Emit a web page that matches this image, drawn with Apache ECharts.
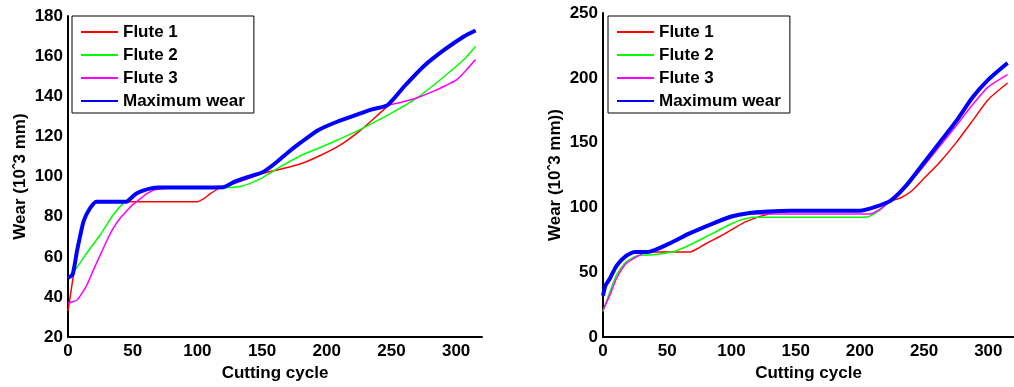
<!DOCTYPE html>
<html>
<head>
<meta charset="utf-8">
<script src="https://cdn.jsdelivr.net/npm/echarts@6/dist/echarts.min.js"></script>
<style>
  html,body{margin:0;padding:0;background:#fff;}
  #chartContent{width:1014px;height:387px;}
</style>
</head>
<body>
<div id="chartContent"></div>
<script>
// series names
var names = ['Flute 1','Flute 2','Flute 3','Maximum wear'];

// left chart  [cycle, wear]
var left_f1 = [[0,33],[4,50],[7,63],[12,77.5],[17,84],[22,87.5],[30,87.5],[100,87.5],[105,89],[110,91.5],[118,94.5],[135,98],[150,101.5],[165,103.8],[180,106.4],[195,110.5],[210,115.5],[226,123],[240,131],[248,135.8],[260,145],[275,155],[291,163.2],[306,169.8],[315,172.8]];
var left_f2 = [[0,49.5],[5,53],[12,59.5],[18,65],[25,71],[35,81],[44,87.5],[50,90],[56,92.4],[62,94],[70,94.5],[120,94.5],[133,95],[149,99],[164,104.8],[180,110.5],[195,114.5],[211,119],[226,123.5],[250,131.6],[270,139.3],[291,150],[306,158.3],[315,164.8]];
var left_f3 = [[0,37],[3,37.5],[7,38.5],[11,42],[15,46.5],[20,54],[25,61],[30,68],[35,74.3],[40,79],[45,82.6],[50,86],[56,89],[61,91.5],[66,93.2],[74,94],[80,94.5],[120,94.5],[128,96.5],[138,99],[150,101.8],[160,106.5],[170,112],[180,117],[193,123],[208,127.3],[224,131],[247,135.6],[257,136.9],[270,139.3],[280,141.8],[291,145],[300,148],[306,151.7],[315,158.3]];
var left_max = [[0,49.5],[3.6,51.3],[7,63],[12,77.6],[17,84.2],[22,87.5],[45,87.5],[50,90],[53,91.6],[58,93],[64,94.1],[70,94.5],[120,94.7],[128,97.2],[138,99.6],[150,102],[160,106.5],[170,112],[180,117],[193,123],[208,127.3],[224,131],[235,133.5],[247,135.6],[260,145],[275,155],[291,163.2],[306,169.8],[315,172.8]];

// right chart  [cycle, wear]
var right_f1 = [[0,32],[2,40],[5,45.2],[10.5,55],[18,62.6],[24.6,65.7],[68,65.7],[74,68.5],[80,72],[95,79.8],[110,88.5],[123,93.3],[135,96.5],[148,97.5],[200,97.5],[212,100.5],[224,105],[232,107.5],[240,112.5],[249,121.5],[262,134.7],[275,150],[287.5,166.6],[300,183.3],[315,196]];
var right_f2 = [[0,19.7],[5.4,35],[10.5,47.8],[18,58],[26,62.6],[38.7,63.6],[54,65.7],[62,68.5],[69.5,72],[85,79.8],[100,87.4],[108,90.5],[116,92.5],[205,92.5],[215,97.5],[224,105.3],[236,116.8],[249,133.4],[262,150],[275,166.6],[287.5,184.6],[300,198.6],[315,211.4]];
var right_f3 = [[0,21],[5.4,32.4],[10.5,45.2],[18,56.7],[26,61.9],[30,64],[35,65.7],[51.5,72.1],[67,79.8],[85,87.4],[100,93],[113,95],[208,95],[216,99],[224,105.3],[236,116],[249,131],[262,147],[275,163],[287.5,179],[300,193],[315,202.5]];
var right_max = [[0,32],[2,40],[5.4,45.2],[10.5,55],[18,62.6],[24.6,65.7],[35,65.7],[51.5,72.1],[67,79.8],[85,87.4],[100,93],[113,95.6],[128,96.8],[146,97.5],[200,97.5],[212,100.5],[224,105.3],[236,116.8],[249,133.4],[262,150],[275,166.6],[287.5,184.6],[300,198.6],[315,211.4]];

var colors = ['#ff0000','#00ff00','#ff00ff','#0000ff'];
var widths = [1.5,1.5,1.5,4];
var font = 'Liberation Sans, Arial, sans-serif';

function makeSeries(idx, data){
  var out = [];
  for(var i=0;i<4;i++){
    out.push({
      name: names[i],
      type: 'line',
      xAxisIndex: idx,
      yAxisIndex: idx,
      data: data[i],
      symbol: 'none',
      smooth: 0.2,
      animation: false,
      lineStyle: {color: colors[i], width: widths[i]},
      itemStyle: {color: colors[i]}
    });
  }
  return out;
}

function xAx(idx){
  return {
    type: 'value', gridIndex: idx, min: 0, max: 320, interval: 50,
    name: 'Cutting cycle', nameLocation: 'middle', nameGap: 27,
    nameTextStyle: {color:'#000', fontWeight:'bold', fontSize:17, fontFamily:font},
    axisLine: {lineStyle:{color:'#000', width:2}},
    axisTick: {show:false},
    splitLine: {show:false},
    axisLabel: {color:'#000', fontWeight:'bold', fontSize:17, fontFamily:font, margin:6, showMaxLabel:false}
  };
}

function yAx(idx, min, max, step, title){
  return {
    type: 'value', gridIndex: idx, min: min, max: max, interval: step,
    name: title, nameLocation: 'middle', nameGap: 39,
    nameTextStyle: {color:'#000', fontWeight:'bold', fontSize:17, fontFamily:font},
    axisLine: {show:true, lineStyle:{color:'#000', width:2}},
    axisTick: {show:false},
    splitLine: {show:false},
    axisLabel: {color:'#000', fontWeight:'bold', fontSize:17, fontFamily:font, margin:5}
  };
}

function legendAt(l){
  return {
    data: names, orient: 'vertical', left: l, top: 16,
    itemWidth: 37, itemHeight: 14, itemGap: 3,
    padding: [6,9,2,8],
    borderColor: '#000', borderWidth: 1,
    selectedMode: false,
    itemStyle: {opacity: 0},
    textStyle: {color:'#000', fontWeight:'bold', fontSize:17, fontFamily:font, lineHeight:20}
  };
}

var option = {
  backgroundColor: '#fff',
  grid: [
    {left: 68, top: 16, width: 414, height: 324},
    {left: 603, top: 13, width: 416, height: 326}
  ],
  legend: [legendAt(72), legendAt(608)],
  xAxis: [xAx(0), xAx(1)],
  yAxis: [yAx(0, 20, 180, 20, 'Wear (10ˆ3 mm)'), yAx(1, 0, 250, 50, 'Wear (10ˆ3 mm))')],
  series: makeSeries(0, [left_f1,left_f2,left_f3,left_max]).concat(makeSeries(1, [right_f1,right_f2,right_f3,right_max]))
};

var chart = echarts.init(document.getElementById('chartContent'));
chart.setOption(option);
</script>
</body>
</html>
